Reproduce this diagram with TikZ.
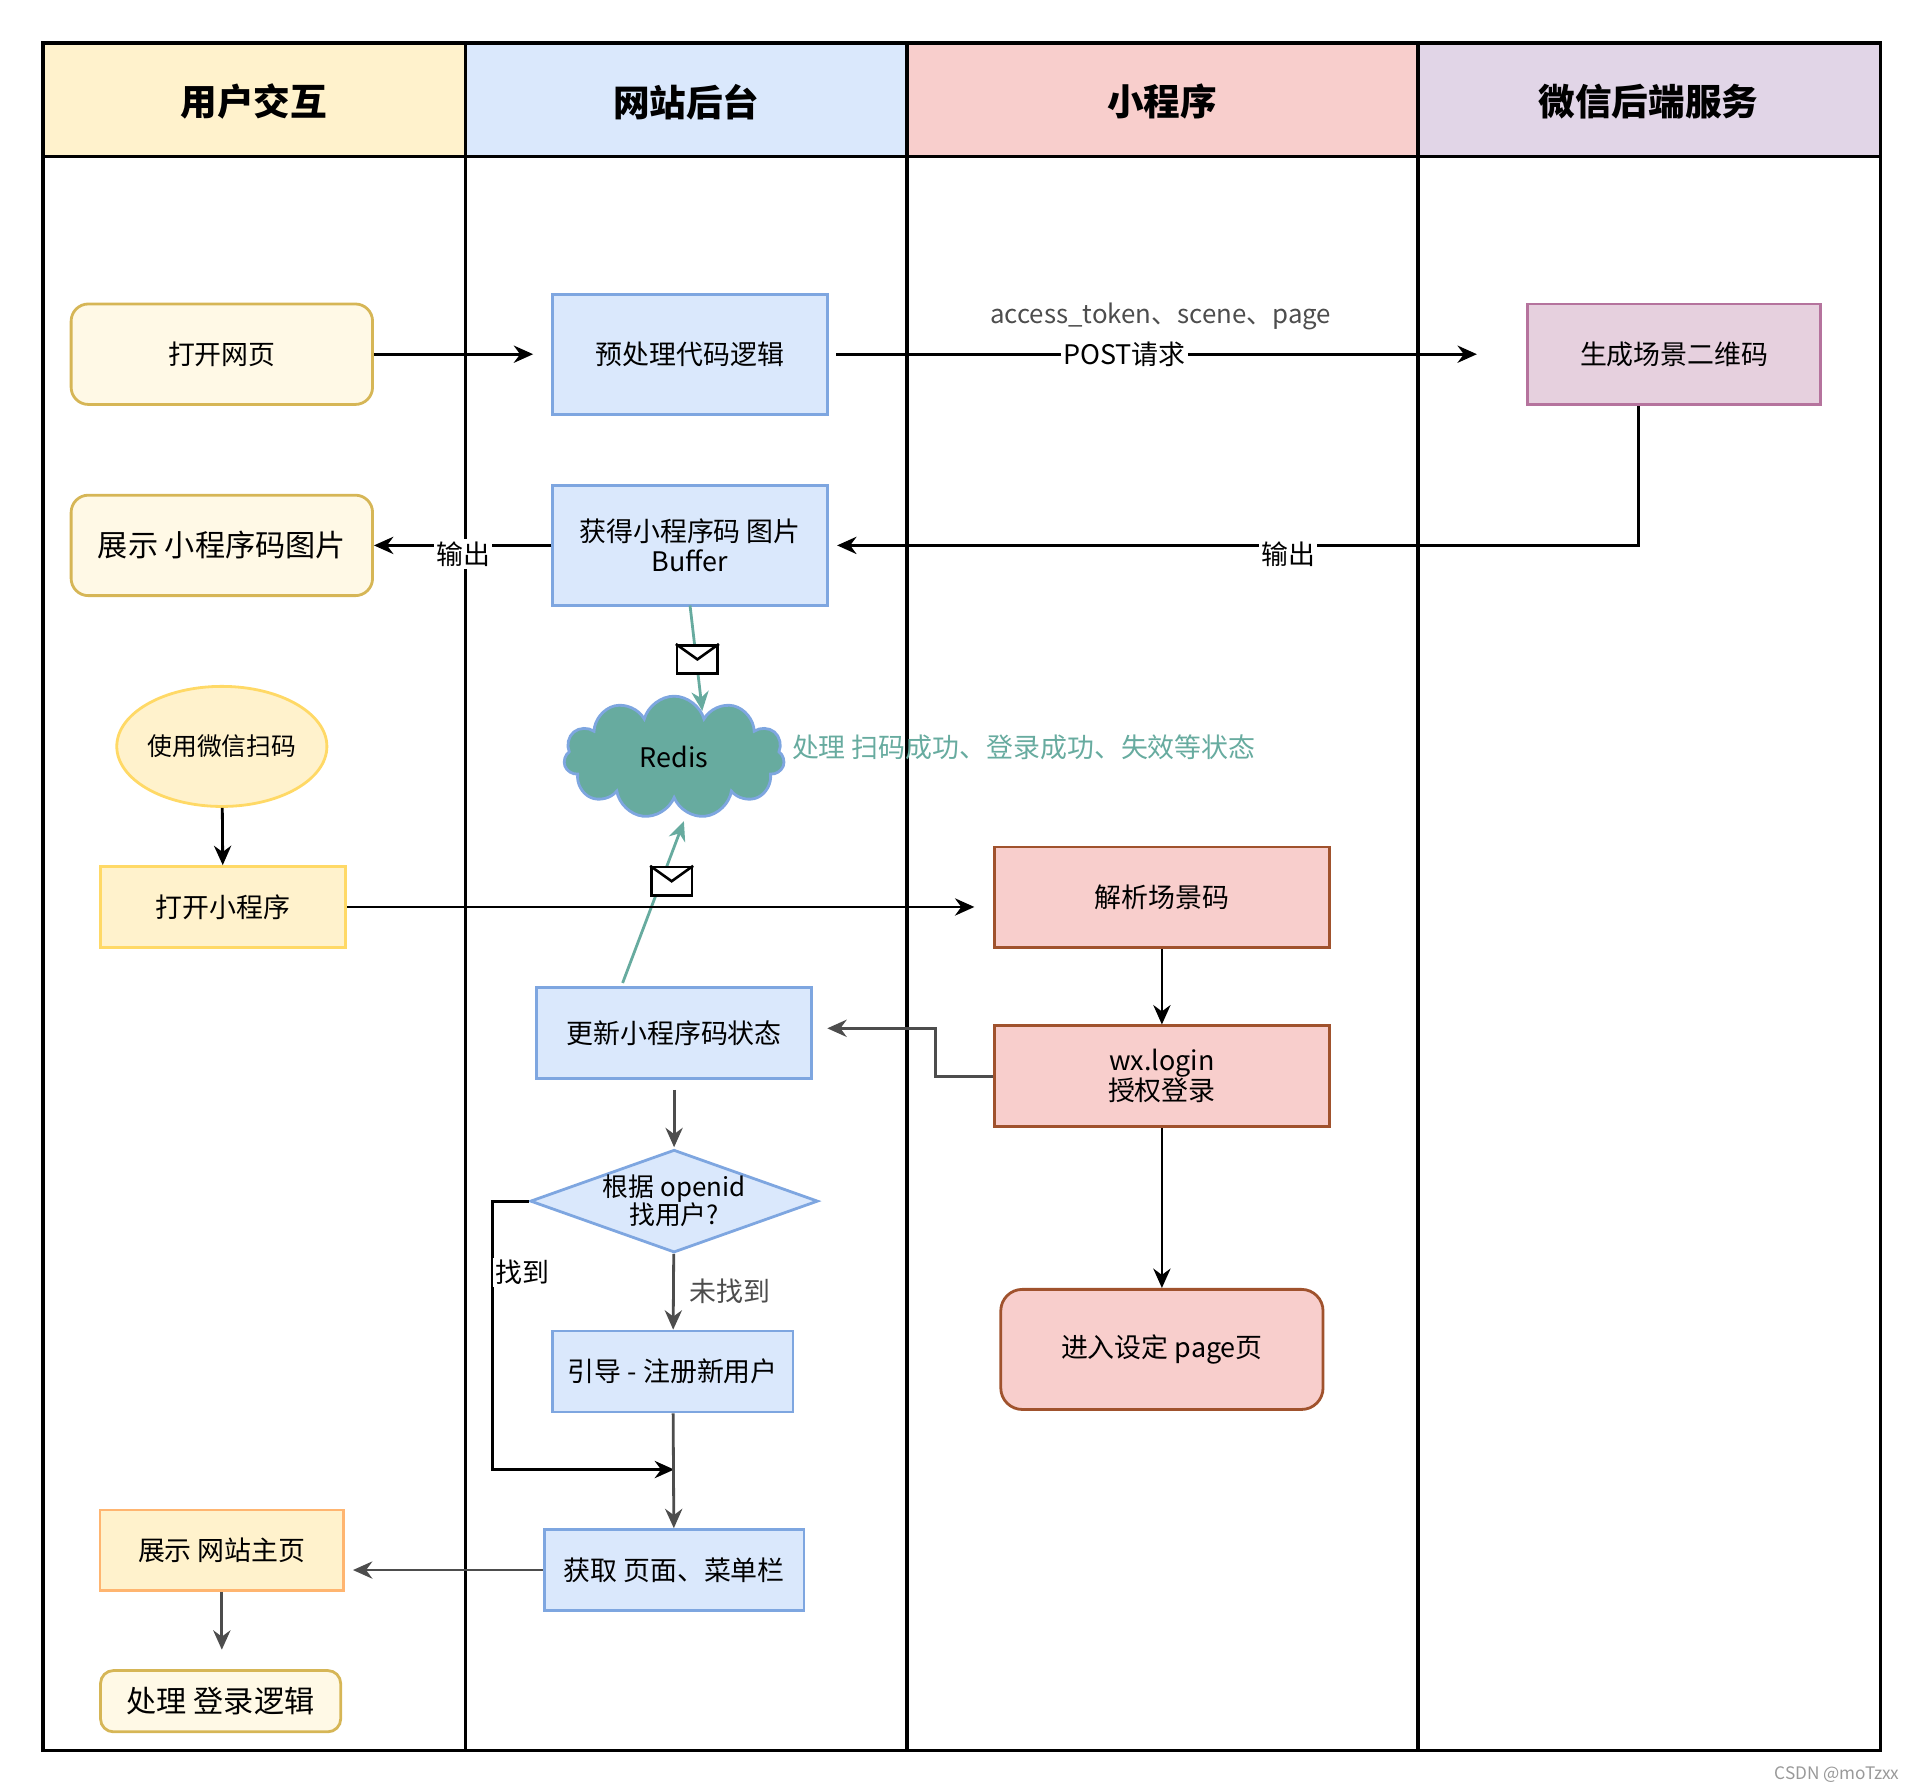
\documentclass[tikz,border=0pt]{standalone}
\usepackage{fontspec}
\setmainfont{Noto Sans CJK SC}
\usetikzlibrary{shapes.geometric, shapes.symbols, arrows.meta, positioning}
\definecolor{laneyel}{HTML}{FFF2CC}
\definecolor{laneblue}{HTML}{DAE8FC}
\definecolor{lanered}{HTML}{F8CECC}
\definecolor{lanepur}{HTML}{E1D5E7}
\definecolor{boxyel}{HTML}{FFF9E6}
\definecolor{edgeyel}{HTML}{D6B656}
\definecolor{edgeyel2}{HTML}{FFD966}
\definecolor{edgeblue}{HTML}{7EA6E0}
\definecolor{edgered}{HTML}{A0522D}
\definecolor{edgepur}{HTML}{B5739D}
\definecolor{fillpur}{HTML}{E6D0DE}
\definecolor{edgeorg}{HTML}{FFB570}
\definecolor{teal}{HTML}{67AB9F}
\definecolor{darkgray}{HTML}{4D4D4D}
\begin{document}
\begin{tikzpicture}[
    x=0.02cm, y=-0.02cm,
    lane/.style={draw=black, line width=1.5pt},
    head/.style={font=\fontsize{17}{20}\selectfont\bfseries},
    box/.style={draw, line width=1.3pt, align=center, inner sep=0pt, font=\fontsize{12.5}{14}\selectfont},
    flow/.style={-{Stealth[length=9pt,width=8pt]}, line width=1.3pt},
    mail/.style={draw, fill=white, line width=1.2pt, minimum width=0.66cm, minimum height=0.46cm, inner sep=0pt},
    lbl/.style={fill=white, inner sep=1pt, font=\fontsize{12.5}{14}\selectfont}
]
    \useasboundingbox (0,0) rectangle (1560,1456);
    % lanes
    \fill[laneyel] (35,35) rectangle (380,128);
    \fill[laneblue] (380,35) rectangle (740,128);
    \fill[lanered] (740,35) rectangle (1157,128);
    \fill[lanepur] (1157,35) rectangle (1534,128);
    \draw[lane] (35,35) rectangle (1534,1428);
    \draw[lane] (35,128) -- (1534,128);
    \foreach \xl in {380,740,1157}
        \draw[lane] (\xl,35) -- (\xl,1428);
    \node[head] (hUser) at (207,83) {用户交互};
    \node[head] (hWeb) at (560,83) {网站后台};
    \node[head] (hMini) at (948,83) {小程序};
    \node[head] (hWx) at (1345,83) {微信后端服务};

    % user lane
    \node[box, rounded corners=8pt, fill=boxyel, draw=edgeyel, minimum width=4.92cm, minimum height=1.64cm] (openWeb) at (181,289) {打开网页};
    \node[box, rounded corners=8pt, fill=boxyel, draw=edgeyel, minimum width=4.92cm, minimum height=1.64cm, font=\fontsize{14}{16}\selectfont] (showCode) at (181,445) {展示 小程序码图片};
    \node[box, ellipse, fill=laneyel, draw=edgeyel2, minimum width=3cm, minimum height=1.96cm, font=\fontsize{11.5}{13}\selectfont] (scan) at (181,609) {使用微信扫码};
    \node[box, fill=laneyel, draw=edgeyel2, minimum width=4cm, minimum height=1.32cm] (openMini) at (182,740) {打开小程序};
    \node[box, fill=laneyel, draw=edgeorg, minimum width=3.98cm, minimum height=1.32cm] (showHome) at (181,1265) {展示 网站主页};
    \node[box, rounded corners=6pt, fill=boxyel, draw=edgeyel, minimum width=3.92cm, minimum height=1cm, font=\fontsize{14}{16}\selectfont] (login) at (180,1388) {处理 登录逻辑};

    % web lane
    \node[box, fill=laneblue, draw=edgeblue, minimum width=4.48cm, minimum height=1.96cm] (prep) at (563,289) {预处理代码逻辑};
    \node[box, fill=laneblue, draw=edgeblue, minimum width=4.48cm, minimum height=1.96cm] (getCode) at (563,445) {获得小程序码 图片\\Buffer};
    \node[box, cloud, cloud puffs=11, aspect=1.9, fill=teal, draw=edgeblue, minimum width=3.6cm, minimum height=2cm] (redis) at (550,618) {Redis};
    \node[box, fill=laneblue, draw=edgeblue, minimum width=4.48cm, minimum height=1.48cm] (update) at (550,843) {更新小程序码状态};
    \node[box, diamond, aspect=2.8, fill=laneblue, draw=edgeblue, minimum width=4.6cm, minimum height=1.64cm, font=\fontsize{12}{13}\selectfont] (find) at (550,980) {根据 openid\\找用户?};
    \node[box, fill=laneblue, draw=edgeblue, minimum width=3.92cm, minimum height=1.32cm] (guide) at (549,1119) {引导 - 注册新用户};
    \node[box, fill=laneblue, draw=edgeblue, minimum width=4.24cm, minimum height=1.32cm] (fetch) at (550,1281) {获取 页面、菜单栏};

    % mini lane
    \node[box, fill=lanered, draw=edgered, minimum width=5.46cm, minimum height=1.64cm] (parse) at (948,732) {解析场景码};
    \node[box, fill=lanered, draw=edgered, minimum width=5.46cm, minimum height=1.64cm] (wxLogin) at (948,878) {wx.login\\授权登录};
    \node[box, rounded corners=10pt, fill=lanered, draw=edgered, minimum width=5.26cm, minimum height=1.96cm] (enter) at (948,1101) {进入设定 page页};

    % wechat lane
    \node[box, fill=fillpur, draw=edgepur, minimum width=4.78cm, minimum height=1.64cm] (genCode) at (1366,289) {生成场景二维码};

    % free ends
    \coordinate (eWeb) at (435,289);
    \coordinate (eQr) at (1205,289);
    \coordinate (eMini) at (795,740);
    \coordinate (eUpd) at (675,839);
    \coordinate (eJoin) at (550,1199);
    \coordinate (eHome) at (288,1281);
    \coordinate (eDia) at (550,936);
    \coordinate (eGet) at (683,445);

    % connectors
    \draw[flow] (openWeb) -- (eWeb);
    \draw[flow] (prep.east) ++(6,0) -- (eQr)
        node[lbl, pos=0.45] {POST请求};
    \node[font=\fontsize{12}{14}\selectfont, text=darkgray] (params) at (947,258) {access\_token、scene、page};
    \draw[flow] (genCode.south -| 1337,0) -- (1337,445) -- (eGet);
    \node[lbl] (outA) at (1051,452) {输出};
    \draw[flow] (getCode) -- (showCode);
    \node[lbl] (outB) at (378,452) {输出};
    \draw[flow, teal] (563,494) -- (573,580);
    \node[mail] (mailA) at (569,538) {};
    \draw[line width=1.2pt] (mailA.north west) -- (mailA.center) -- (mailA.north east);
    \draw[flow, teal] (508,802) -- (558,670);
    \node[mail] (mailB) at (548,719) {};
    \draw[line width=1.2pt] (mailB.north west) -- (mailB.center) -- (mailB.north east);
    \node[text=teal, font=\fontsize{12.5}{14}\selectfont, anchor=west] (state) at (640,610) {处理 扫码成功、登录成功、失效等状态};
    \draw[flow] (scan) -- (openMini);
    \draw[flow] (openMini) -- (eMini);
    \draw[flow] (parse) -- (wxLogin);
    \draw[flow, darkgray] (wxLogin.west) -- (763,878) -- (763,839) -- (eUpd);
    \draw[flow] (wxLogin) -- (enter);
    \draw[flow, darkgray] (update.south) ++(0,8) -- (eDia);
    \draw[flow, darkgray] (find) -- (guide) node[lbl, pos=0.5, right=0.2cm] {未找到};
    \draw[flow] (find.west) -- (402,980) -- (402,1199) -- (eJoin);
    \node[lbl] (found) at (426,1038) {找到};
    \draw[flow, darkgray] (guide) -- (fetch);
    \draw[flow, darkgray] (fetch) -- (eHome);
    \draw[flow, darkgray] (showHome) -- (181,1346);
    \node[text=gray!80, font=\fontsize{8}{9}\selectfont, anchor=east] (mark) at (1556,1448) {CSDN @moTzxx};
\end{tikzpicture}
\end{document}
